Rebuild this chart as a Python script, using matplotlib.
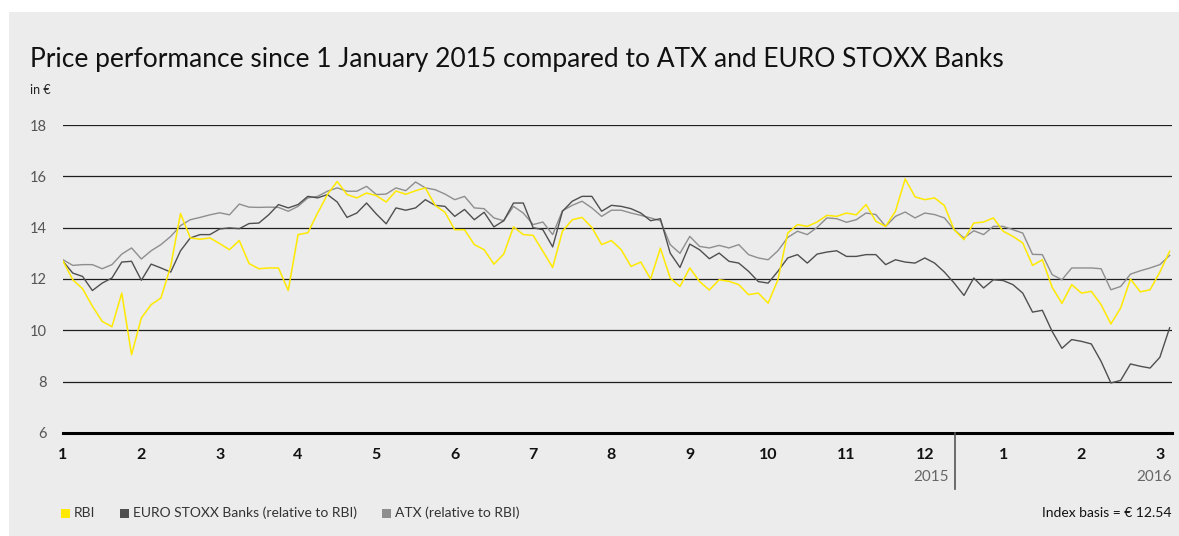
import numpy as np
import matplotlib
matplotlib.use("Agg")
import matplotlib.pyplot as plt
from matplotlib.patches import Rectangle

plt.rcParams["font.family"] = ["Lato", "DejaVu Sans"]

# values sampled every 1/8 month starting 1 Jan 2015
STEP = 1 / 8

rbi = [12.7, 11.97, 11.62, 10.94, 10.35, 10.14, 11.45, 9.05, 10.48, 11.0,
       11.26, 12.5, 14.55, 13.6, 13.55, 13.6, 13.38, 13.14, 13.5, 12.6,
       12.4, 12.43, 12.43, 11.55, 13.73, 13.8, 14.57, 15.29, 15.8, 15.29,
       15.16, 15.35, 15.25, 15.0, 15.43, 15.3, 15.44, 15.55, 14.87, 14.6,
       13.92, 13.92, 13.34, 13.14, 12.58, 12.97, 14.03, 13.73, 13.7, 13.08,
       12.45, 13.86, 14.31, 14.4, 14.01, 13.34, 13.5, 13.14, 12.49, 12.66,
       12.0, 13.2, 12.04, 11.71, 12.43, 11.9, 11.57, 11.97, 11.91, 11.78,
       11.39, 11.45, 11.06, 11.97, 13.79, 14.12, 14.05, 14.22, 14.48, 14.44,
       14.57, 14.5, 14.9, 14.25, 14.05, 14.64, 15.9, 15.2, 15.09, 15.16,
       14.86, 13.92, 13.53, 14.18, 14.22, 14.38, 13.86, 13.66, 13.4, 12.53,
       12.75, 11.68, 11.05, 11.78, 11.45, 11.52, 11.0, 10.25, 10.87, 12.0,
       11.5, 11.58, 12.27, 13.08]

stoxx_banks = [12.69, 12.23, 12.1, 11.55, 11.84, 12.04, 12.66, 12.69, 11.95, 12.58,
               12.43, 12.27, 13.1, 13.6, 13.73, 13.73, 13.95, 13.99, 13.96, 14.16,
               14.18, 14.5, 14.9, 14.77, 14.9, 15.22, 15.16, 15.29, 15.0, 14.4,
               14.57, 14.96, 14.53, 14.15, 14.77, 14.68, 14.77, 15.09, 14.87, 14.83,
               14.44, 14.71, 14.31, 14.6, 14.03, 14.27, 14.96, 14.96, 14.0, 13.92,
               13.25, 14.64, 15.03, 15.22, 15.22, 14.64, 14.87, 14.83, 14.74, 14.57,
               14.27, 14.35, 13.01, 12.45, 13.36, 13.14, 12.79, 13.01, 12.69, 12.62,
               12.3, 11.9, 11.84, 12.3, 12.82, 12.95, 12.62, 12.97, 13.05, 13.1,
               12.88, 12.88, 12.95, 12.95, 12.56, 12.75, 12.66, 12.62, 12.82, 12.62,
               12.27, 11.84, 11.36, 12.04, 11.65, 11.97, 11.94, 11.78, 11.45, 10.71,
               10.78, 9.96, 9.3, 9.64, 9.57, 9.47, 8.79, 7.95, 8.05, 8.69,
               8.6, 8.53, 8.95, 10.1]

atx = [12.75, 12.53, 12.56, 12.56, 12.4, 12.56, 12.97, 13.21, 12.78, 13.1,
       13.34, 13.66, 14.08, 14.31, 14.4, 14.5, 14.58, 14.5, 14.92, 14.8,
       14.79, 14.8, 14.79, 14.64, 14.83, 15.16, 15.22, 15.42, 15.55, 15.42,
       15.42, 15.61, 15.29, 15.31, 15.55, 15.44, 15.78, 15.55, 15.48, 15.31,
       15.09, 15.22, 14.77, 14.74, 14.38, 14.27, 14.83, 14.57, 14.12, 14.22,
       13.73, 14.66, 14.87, 15.03, 14.77, 14.44, 14.68, 14.68, 14.57, 14.48,
       14.38, 14.27, 13.34, 13.0, 13.66, 13.27, 13.21, 13.31, 13.21, 13.34,
       12.95, 12.82, 12.75, 13.1, 13.62, 13.86, 13.73, 14.01, 14.38, 14.35,
       14.21, 14.31, 14.57, 14.51, 14.05, 14.44, 14.61, 14.38, 14.57, 14.51,
       14.38, 13.92, 13.6, 13.88, 13.73, 14.05, 14.05, 13.92, 13.79, 12.96,
       12.95, 12.17, 11.97, 12.43, 12.43, 12.43, 12.4, 11.58, 11.71, 12.19,
       12.32, 12.43, 12.56, 12.92]

month_labels = ["1", "2", "3", "4", "5", "6", "7", "8", "9", "10", "11", "12",
                "1", "2", "3"]
y_ticks = [6, 8, 10, 12, 14, 16, 18]

x = np.arange(len(rbi)) * STEP

YELLOW = "#ffe900"
DARK = "#4f4f4f"
GREY = "#8e8e8e"
PANEL = "#ebeceb"

fig = plt.figure(figsize=(11.79, 5.36), dpi=100, facecolor="white")
fig.patches.append(Rectangle((9 / 1179, 0), 1, 1 - 12 / 536, transform=fig.transFigure,
                             facecolor=PANEL, edgecolor="none", zorder=-10))

ax = fig.add_axes([63 / 1179, 1 - 433 / 536, (1172 - 63) / 1179, 308 / 536])
ax.set_facecolor(PANEL)
ax.patch.set_alpha(0)

ax.plot(x, atx, color=GREY, lw=1.0, zorder=3)
ax.plot(x, stoxx_banks, color=DARK, lw=1.0, zorder=4)
ax.plot(x, rbi, color=YELLOW, lw=1.1, zorder=5)

ax.set_xlim(0, x[-1] + 0.03)
ax.set_ylim(6, 18)
for v in y_ticks[1:]:
    ax.axhline(v, color="#1e1e1e", lw=0.9, zorder=1)
ax.axhline(6, color="black", lw=2.2, zorder=6, clip_on=False)

for s in ax.spines.values():
    s.set_visible(False)

ax.set_yticks(y_ticks)
ax.set_yticklabels([str(v) for v in y_ticks])
ax.tick_params(axis="y", length=0, pad=12, labelsize=10.5, labelcolor="#555555")
ax.set_xticks(range(len(month_labels)))
ax.set_xticklabels(month_labels, fontweight="bold")
ax.tick_params(axis="x", length=0, pad=11, labelsize=11.5, labelcolor="#111111")

# year divider
ax.plot([11.38, 11.38], [6, 3.8], color="#555555", lw=1.2, clip_on=False, zorder=6)
ax.text(11.3, 4.3, "2015", ha="right", va="center", fontsize=11, color="#666666")
ax.text(x[-1] + 0.03, 4.3, "2016", ha="right", va="center", fontsize=11, color="#666666")

fig.text(30 / 1179, 1 - 59 / 536, "Price performance since 1 January 2015 compared to ATX and EURO STOXX Banks",
         fontsize=19, va="center", ha="left", color="#111111")
fig.text(30 / 1179, 1 - 90 / 536, "in €", fontsize=9, va="center", ha="left", color="#222222")

# legend
leg_y = 1 - 513 / 536
items = [(61, YELLOW, "RBI"), (120, DARK, "EURO STOXX Banks (relative to RBI)"),
         (382, GREY, "ATX (relative to RBI)")]
for px, col, lab in items:
    fig.patches.append(Rectangle((px / 1179, leg_y - 4.5 / 536), 9 / 1179, 9 / 536,
                                 transform=fig.transFigure, facecolor=col, edgecolor="none"))
    fig.text((px + 13) / 1179, leg_y, lab, fontsize=10, va="center", ha="left", color="#333333")
fig.text(1172 / 1179, leg_y, "Index basis = € 12.54", fontsize=10, va="center", ha="right",
         color="#111111")

fig.savefig("out.png", dpi=100, facecolor=fig.get_facecolor())
